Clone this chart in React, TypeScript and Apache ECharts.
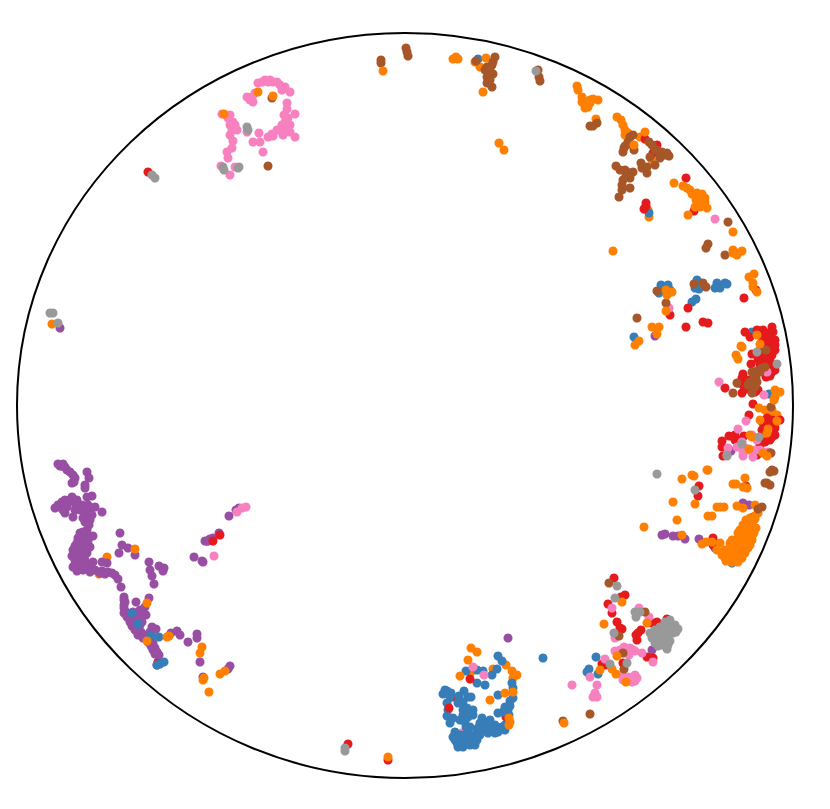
import React, { useEffect, useRef } from "react";
import * as echarts from "echarts";

type P = number[][];

const redBack: P = [[158,662],[452,697],[506,717]];
const blueBack: P = [[725,552],[728,560],[732,563],[478,59]];
const orangeBack: P = [[107,557],[99,574],[152,635],[513,678],[512,671],[506,665],[493,669],[471,672],[617,117],[621,120],[623,125],[625,130],[625,135],[628,133],[475,62],[486,58],[480,67],[477,652],[596,119],[772,410],[777,415],[640,137],[652,160],[648,210],[649,217],[770,415],[765,410],[775,425],[765,435]];
const pinkBack: P = [[87,517],[462,733]];
const purple: P = [[60,466],[65,467],[70,472],[75,478],[72,483],[87,472],[89,478],[85,485],[85,488],[55,508],[58,505],[62,502],[65,500],[72,497],[67,507],[65,513],[73,517],[87,497],[92,496],[82,505],[88,505],[95,507],[102,512],[80,510],[85,515],[92,515],[85,522],[89,525],[87,530],[93,536],[80,533],[85,538],[77,543],[83,545],[90,547],[73,550],[80,552],[87,553],[72,556],[78,558],[85,560],[73,567],[80,568],[88,568],[95,570],[102,571],[108,572],[115,575],[118,579],[121,587],[124,597],[77,571],[102,562],[107,563],[93,562],[120,533],[122,545],[128,548],[119,553],[135,555],[149,562],[150,570],[152,576],[159,566],[164,568],[163,571],[154,584],[125,602],[124,608],[124,613],[136,602],[149,598],[133,612],[140,610],[145,607],[143,613],[127,617],[130,622],[135,617],[138,617],[132,626],[135,630],[140,625],[138,635],[143,638],[148,642],[152,627],[156,629],[147,635],[151,646],[153,650],[155,654],[159,655],[157,665],[171,633],[177,631],[180,635],[188,642],[197,634],[197,638],[200,662],[203,677],[230,666],[228,669],[229,516],[207,541],[210,539],[213,538],[219,533],[205,541],[194,557],[202,561],[203,562],[239,508],[508,638],[652,650],[662,535],[665,534],[673,536],[678,536],[685,539],[699,539],[743,503],[749,505],[731,451],[655,336],[60,328],[60,507],[63,510],[68,503],[70,500],[75,503],[77,500],[62,466],[67,470],[73,475],[74,482],[58,464],[63,464],[75,510],[78,507],[85,510],[90,510],[90,520],[83,518],[88,535],[83,532],[78,538],[82,540],[88,541],[75,546],[80,547],[86,550],[76,553],[82,556],[75,560],[80,563],[85,565],[90,565],[75,564],[83,570],[90,572],[100,573],[105,574],[112,573],[124,600],[124,605],[126,612],[128,614],[130,618],[133,622],[136,625],[136,630],[141,632],[145,636],[150,640],[153,643],[155,648],[157,652],[142,622],[146,615],[140,617],[150,632],[208,541],[236,510]];
const blue: P = [[138,624],[132,613],[159,637],[151,636],[157,665],[160,664],[164,662],[498,656],[502,661],[543,658],[466,671],[477,670],[483,671],[492,675],[497,669],[477,683],[485,685],[512,683],[513,688],[498,695],[513,698],[510,701],[464,691],[443,694],[447,691],[451,693],[459,696],[468,697],[471,697],[447,703],[458,703],[463,702],[447,716],[450,723],[453,718],[473,710],[463,715],[468,717],[473,715],[465,722],[470,727],[468,733],[455,732],[453,737],[457,743],[458,747],[463,747],[470,745],[475,745],[477,740],[472,738],[463,740],[482,718],[487,723],[483,730],[488,733],[493,730],[498,732],[502,727],[498,713],[503,712],[508,710],[509,715],[477,732],[480,723],[490,720],[495,725],[505,730],[596,657],[589,669],[587,672],[598,674],[622,650],[715,548],[752,332],[769,394],[649,213],[661,285],[668,285],[659,293],[662,290],[670,290],[697,280],[700,283],[695,288],[699,289],[717,283],[715,288],[720,288],[725,283],[727,284],[696,299],[692,302],[634,337],[455,740],[460,735],[460,745],[467,743],[472,743],[465,735],[470,735],[478,728],[485,726],[490,727],[480,735],[495,733],[500,730],[505,725],[463,710],[470,712],[467,708],[460,720],[466,727],[505,707],[510,706],[448,710],[450,697],[445,690]];
const red: P = [[213,541],[220,535],[470,679],[449,708],[614,578],[608,604],[612,613],[621,597],[625,595],[617,622],[620,628],[622,629],[641,630],[638,633],[637,640],[657,622],[652,623],[667,619],[647,657],[653,658],[602,664],[605,665],[623,663],[663,640],[636,635],[699,486],[698,496],[746,486],[713,538],[713,545],[703,322],[708,323],[745,332],[750,337],[757,330],[763,330],[772,327],[768,333],[773,332],[762,337],[768,340],[775,340],[772,347],[765,345],[775,350],[768,352],[752,354],[758,360],[751,364],[770,358],[774,365],[772,372],[775,370],[765,360],[768,365],[766,377],[743,374],[742,378],[725,388],[742,393],[743,385],[750,387],[747,389],[758,390],[738,383],[753,404],[749,415],[767,418],[772,420],[780,420],[763,423],[772,437],[765,442],[744,436],[729,436],[735,435],[735,440],[722,441],[722,447],[723,456],[775,428],[757,455],[645,139],[657,145],[653,153],[686,178],[646,203],[646,206],[644,209],[694,211],[688,308],[670,315],[686,327],[744,298],[756,290],[148,172],[348,744],[388,760],[760,335],[765,335],[770,338],[760,350],[770,345],[775,345],[762,353],[772,355],[760,365],[765,370],[770,363],[770,376],[748,380],[745,388],[755,392],[765,422],[770,425],[762,430],[768,424],[775,435],[770,440],[740,440],[760,445]];
const pink: P = [[214,556],[237,512],[242,508],[246,507],[473,667],[484,675],[612,608],[639,608],[649,617],[615,638],[624,647],[630,648],[635,651],[642,653],[615,651],[629,655],[653,662],[605,659],[590,677],[572,685],[597,685],[595,693],[597,697],[593,697],[628,677],[633,677],[637,678],[623,680],[632,682],[627,680],[635,681],[719,382],[764,395],[767,372],[746,421],[738,429],[742,442],[737,447],[743,452],[743,456],[753,457],[755,450],[763,452],[728,448],[752,435],[757,440],[768,452],[715,219],[669,308],[258,83],[265,80],[268,82],[277,82],[280,85],[282,90],[290,92],[247,97],[252,97],[255,93],[253,102],[287,103],[287,109],[284,115],[295,114],[288,118],[282,125],[277,130],[290,125],[290,132],[295,137],[283,135],[268,137],[273,136],[259,133],[253,142],[260,142],[263,152],[222,114],[230,115],[233,122],[232,130],[237,130],[247,132],[233,141],[232,148],[228,158],[235,167],[221,166],[230,175],[227,152],[270,80],[262,82],[273,82],[285,87],[250,100],[285,122],[286,128],[280,130],[285,130],[272,134],[228,118],[235,125],[230,135],[230,125],[625,677],[630,680],[635,675],[622,675],[595,695],[633,650],[620,650],[748,450],[760,450],[745,448]];
const brown: P = [[609,583],[645,612],[623,653],[624,669],[590,714],[563,721],[619,636],[772,470],[774,471],[770,472],[767,483],[770,485],[765,483],[753,517],[770,453],[766,350],[752,372],[757,371],[762,368],[755,375],[757,382],[750,382],[755,387],[752,393],[733,393],[737,383],[765,367],[771,407],[771,453],[630,137],[633,135],[628,142],[624,148],[623,152],[634,150],[649,142],[652,145],[657,150],[662,152],[667,153],[669,156],[660,158],[655,165],[650,157],[641,163],[647,167],[647,173],[616,166],[620,170],[627,172],[633,172],[623,180],[630,178],[630,188],[622,190],[619,197],[728,222],[708,244],[706,248],[725,255],[657,291],[694,284],[706,287],[703,283],[666,303],[637,318],[272,98],[268,166],[381,60],[381,63],[406,48],[407,52],[408,56],[476,61],[495,57],[493,62],[492,65],[485,70],[488,72],[493,74],[487,77],[487,83],[492,87],[538,70],[539,77],[540,81],[590,126],[597,123],[593,126],[626,176],[622,185],[625,170],[642,168],[625,146],[630,144],[655,150],[660,155],[665,155],[487,67],[490,80],[490,70],[756,378],[760,372],[748,385]];
const orange: P = [[135,549],[147,603],[147,641],[167,637],[169,636],[202,647],[200,653],[204,678],[203,680],[220,674],[225,671],[209,692],[471,648],[468,660],[460,676],[513,692],[505,693],[490,700],[510,722],[509,725],[509,718],[517,675],[622,602],[604,624],[647,623],[617,656],[600,670],[612,669],[616,674],[626,682],[564,723],[682,479],[692,475],[694,476],[707,470],[745,478],[733,484],[736,484],[743,487],[747,488],[673,502],[695,504],[717,507],[720,507],[724,507],[737,506],[743,508],[755,505],[708,516],[712,516],[677,520],[644,527],[682,535],[702,544],[706,542],[712,542],[720,543],[717,550],[758,513],[755,519],[750,518],[746,520],[752,525],[745,527],[740,530],[750,530],[754,533],[742,535],[748,538],[735,540],[745,543],[752,540],[730,543],[738,545],[748,548],[730,548],[740,550],[745,553],[733,553],[725,550],[728,557],[735,558],[742,558],[726,561],[732,562],[738,562],[730,555],[757,335],[741,346],[760,344],[736,355],[738,359],[775,390],[780,392],[775,397],[774,400],[759,408],[760,420],[777,421],[768,429],[767,433],[750,435],[752,437],[749,449],[763,453],[767,456],[708,470],[634,145],[645,132],[674,183],[683,186],[687,188],[692,194],[697,193],[702,194],[700,200],[705,202],[707,208],[700,207],[695,207],[688,215],[733,232],[613,251],[733,250],[742,251],[737,255],[733,253],[738,253],[666,290],[667,295],[672,292],[666,311],[652,327],[659,327],[657,334],[639,341],[635,345],[749,277],[754,274],[753,283],[753,287],[757,292],[742,347],[273,96],[258,92],[224,114],[383,71],[456,57],[453,59],[458,59],[483,92],[499,143],[504,150],[577,86],[578,90],[582,97],[587,102],[585,108],[588,107],[593,99],[598,100],[52,324],[388,757],[755,516],[748,523],[756,528],[743,525],[738,533],[746,530],[750,535],[733,545],[740,540],[728,550],[735,550],[742,553],[748,543],[722,555],[725,558],[730,560],[736,556],[744,548],[750,545],[752,536],[732,540],[742,545],[737,560],[741,555],[727,553],[582,102],[590,103],[590,100],[700,196],[696,200],[702,205],[698,203],[705,198],[690,190]];
const brownFront: P = [[762,507],[758,509]];
const grey: P = [[617,586],[615,598],[635,612],[636,617],[640,612],[614,633],[610,664],[627,663],[670,620],[675,625],[678,629],[668,628],[660,627],[655,630],[652,638],[658,637],[667,637],[673,633],[662,645],[667,649],[655,643],[655,633],[663,632],[660,642],[657,474],[695,490],[727,455],[757,352],[777,364],[742,444],[727,456],[759,437],[247,127],[248,130],[223,167],[224,170],[239,167],[238,168],[536,71],[152,175],[155,178],[50,313],[53,313],[58,323],[345,748],[345,751],[665,622],[672,628],[664,628],[676,632],[670,630],[650,633],[654,636],[660,634],[665,633],[661,638],[670,641],[664,643],[658,646],[668,645]];

const RED = "#e41a1c", BLUE = "#377eb8", PURPLE = "#984ea3", ORANGE = "#ff7f00", BROWN = "#a65628", PINK = "#f781bf", GREY = "#999999";

const layers: [P, string][] = [
  [redBack, RED],
  [blueBack, BLUE],
  [orangeBack, ORANGE],
  [pinkBack, PINK],
  [purple, PURPLE],
  [blue, BLUE],
  [red, RED],
  [pink, PINK],
  [brown, BROWN],
  [orange, ORANGE],
  [brownFront, BROWN],
  [grey, GREY],
];

export default function App() {
  const ref = useRef<HTMLDivElement>(null);
  useEffect(() => {
    document.body.style.margin = "0";
    const chart = echarts.init(ref.current!, null, { renderer: "svg" });
    chart.setOption({
      animation: false,
      backgroundColor: "#ffffff",
      grid: { left: 0, right: 0, top: 0, bottom: 0 },
      xAxis: { type: "value", min: 0, max: 830, show: false },
      yAxis: { type: "value", min: 0, max: 809, inverse: true, show: false },
      graphic: [
        {
          type: "ellipse",
          shape: { cx: 405, cy: 405.5, rx: 388, ry: 372.5 },
          style: { fill: "none", stroke: "#000000", lineWidth: 2 },
          silent: true,
        },
      ],
      series: layers.map(([data, color]) => ({
        type: "scatter",
        data,
        symbol: "circle",
        symbolSize: 9,
        itemStyle: { color, opacity: 1 },
        silent: true,
      })),
    });
    return () => chart.dispose();
  }, []);
  return <div ref={ref} style={{ width: 830, height: 809 }} />;
}
